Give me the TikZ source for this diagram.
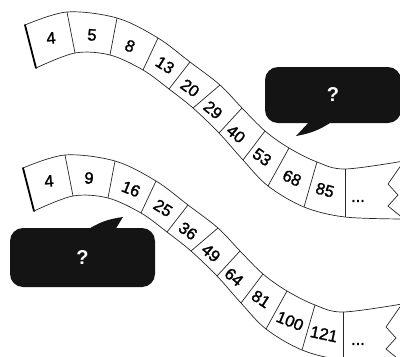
\documentclass[tikz,border=0pt]{standalone}
\usepackage{fontspec}
\setmainfont{Liberation Sans}
\newfontfamily\cellfont[FakeBold=1.5]{Liberation Sans}
\newcommand\drawribbon{%
  \coordinate (t0) at (25,25);   \coordinate (b0) at (36,68);
  \coordinate (t1) at (67,12);   \coordinate (b1) at (75,53);
  \coordinate (t2) at (117,18);  \coordinate (b2) at (110,55);
  \coordinate (t3) at (158,38);  \coordinate (b3) at (143,70);
  \coordinate (t4) at (190,62);  \coordinate (b4) at (169,89);
  \coordinate (t5) at (220,85);  \coordinate (b5) at (193,108);
  \coordinate (t6) at (242,108); \coordinate (b6) at (219,133);
  \coordinate (t7) at (265,131); \coordinate (b7) at (243,160);
  \coordinate (t8) at (289,148); \coordinate (b8) at (268,186);
  \coordinate (t9) at (317,162); \coordinate (b9) at (304,207);
  \coordinate (t10) at (345,169); \coordinate (b10) at (345,217);
  \coordinate (t11) at (404,161); \coordinate (b11) at (404,219);
  \coordinate (z1) at (388,184); \coordinate (z2) at (398,195); \coordinate (z3) at (388,206);
  \draw[edge] plot[smooth,tension=0.55] coordinates {(t0) (t1) (t2) (t3) (t4) (t5) (t6) (t7) (t8) (t9) (t10) (t11)};
  \draw[edge] plot[smooth,tension=0.55] coordinates {(b0) (b1) (b2) (b3) (b4) (b5) (b6) (b7) (b8) (b9) (b10) (b11)};
  \foreach \k in {1,...,10} { \draw[edge] (t\k) -- (b\k); }
  \draw[endline] (t0) -- (b0);
  \draw[edge] (t11) -- (z1) -- (z2) -- (z3) -- (b11);
}
\begin{document}
\begin{tikzpicture}[x=1pt,y=-1pt,
  edge/.style={line width=0.7pt, black!85},
  endline/.style={line width=1.8pt, line cap=round},
  cell/.style={font=\cellfont\fontsize{16.5}{16.5}\selectfont, inner sep=0pt},
  bubble/.style={fill=black!92, rounded corners=13pt, inner sep=0pt, text=white,
    font=\fontsize{20}{20}\selectfont\bfseries},
  tail/.style={fill=black!92},
]
\useasboundingbox (0,0) rectangle (400,357);
\clip (0,0) rectangle (400,357);

% upper ribbon
\begin{scope}
  \drawribbon
  \foreach \lab/\px/\py/\r [count=\i] in {4/51/38/5, 5/92/35/-3, 8/130/46/-22, 13/165/65/-32,
      20/190/88/-36, 29/213/110/-40, 40/236/134/-40, 53/262/157/-35, 68/292/178/-25, 85/325/190/-15}
    { \node[cell, rotate=\r] (u\i) at (\px,\py) {\lab}; }
  \node[cell] (udots) at (358,201) {...};
\end{scope}

% lower ribbon
\begin{scope}[shift={(-2,143)}]
  \drawribbon
  \foreach \lab/\px/\py/\r [count=\i] in {4/51/38/5, 9/91/35/-3, 16/133/46/-22, 25/165/65/-32,
      36/190/88/-36, 49/213/110/-40, 64/236/134/-40, 81/263/156/-33, 100/292/178/-22, 121/326/191/-12}
    { \node[cell, rotate=\r] (l\i) at (\px,\py) {\lab}; }
  \node[cell] (ldots) at (360,201) {...};
\end{scope}

% upper speech bubble
\node[bubble, minimum width=136pt, minimum height=56pt] (bubA) at (333,95) {?};
\coordinate (tipA) at (296,136);
\fill[tail] (310,121) -- (tipA) to[bend right=12] (333,121) -- cycle;

% lower speech bubble
\node[bubble, minimum width=145pt, minimum height=59pt] (bubB) at (82.5,257.5) {?};
\coordinate (tipB) at (123,217);
\fill[tail] (87,230) to[bend left=12] (tipB) -- (115,230) -- cycle;
\end{tikzpicture}
\end{document}
